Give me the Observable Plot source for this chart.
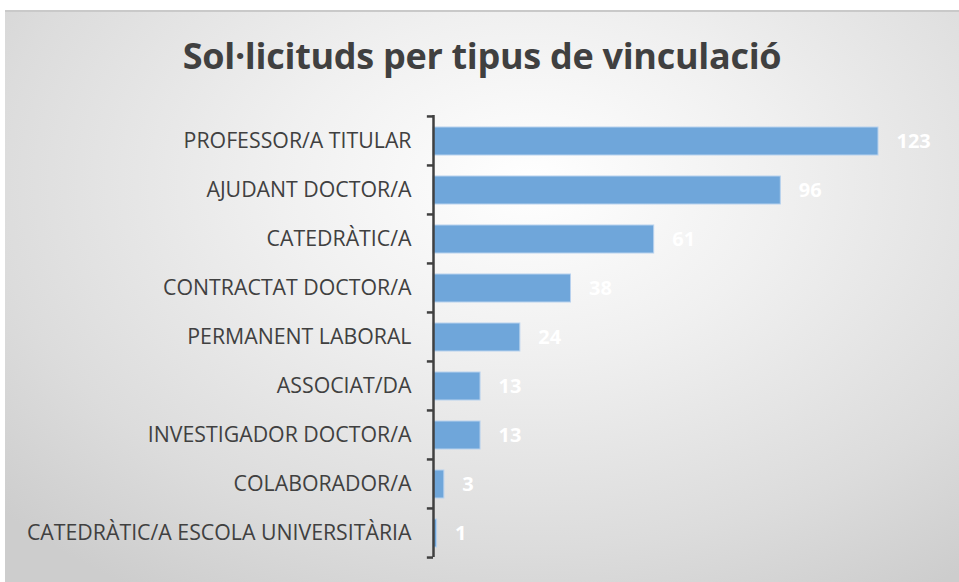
<!DOCTYPE html>
<html>
<head>
<meta charset="utf-8">
<script src="https://cdn.jsdelivr.net/npm/d3@7"></script>
<script src="https://cdn.jsdelivr.net/npm/@observablehq/plot@0.6"></script>
<style>
  html, body { margin: 0; padding: 0; background: #ffffff; width: 959px; height: 582px; overflow: hidden; }
  #frame {
    position: absolute; left: 5px; top: 10px; width: 954px; height: 572px;
    border-top: 2px solid #c9c9c9;
    background: radial-gradient(ellipse 75% 85% at 55% 30%, #ffffff 0%, #f0f0f0 35%, #dcdcdc 75%, #cdcdcd 100%);
    font-family: "Open Sans", "Noto Sans", sans-serif;
  }
  #title {
    position: absolute; left: 0; top: 26px; width: 954px; text-align: center;
    font-size: 36px; line-height: 1; font-weight: bold; color: #404040; margin: 0; letter-spacing: -0.3px;
  }
  #chart { position: absolute; left: 0; top: -2px; }
</style>
</head>
<body>
<div id="frame">
  <h1 id="title">Sol·licituds per tipus de vinculació</h1>
  <div id="chart"></div>
</div>
<script>
const categories = [
  "PROFESSOR/A TITULAR",
  "AJUDANT DOCTOR/A",
  "CATEDRÀTIC/A",
  "CONTRACTAT DOCTOR/A",
  "PERMANENT LABORAL",
  "ASSOCIAT/DA",
  "INVESTIGADOR DOCTOR/A",
  "COLABORADOR/A",
  "CATEDRÀTIC/A ESCOLA UNIVERSITÀRIA"
];
const values = [123, 96, 61, 38, 24, 13, 13, 3, 1];

const data = categories.map((c, i) => ({category: c, value: values[i]}));

const W = 954, H = 572, mt = 105, mb = 25, ml = 428, mr = 81;
const step = (H - mt - mb) / categories.length;

const plot = Plot.plot({
  width: W, height: H,
  marginTop: mt, marginBottom: mb, marginLeft: ml, marginRight: mr,
  style: {background: "transparent", fontFamily: "'Open Sans', 'Noto Sans', sans-serif"},
  x: {domain: [0, 123], axis: null},
  y: {domain: categories, padding: 0, label: null},
  marks: [
    Plot.barX(data, {
      y: "category", x: "value", x1: 0,
      fill: "#6fa6da", stroke: "#b8d2ee", strokeWidth: 1,
      insetTop: 11, insetBottom: 10
    }),
    Plot.ruleX([0], {stroke: "#404040", strokeWidth: 2.5}),
    Plot.ruleY(categories, {y: d => d, x1: -1.7, x2: 0, dy: -step / 2, stroke: "#404040", strokeWidth: 2.5}),
    Plot.ruleY([categories[categories.length - 1]], {y: d => d, x1: -1.7, x2: 0, dy: step / 2, stroke: "#404040", strokeWidth: 2.5}),
    Plot.axisY({tickSize: 0, tickPadding: 22, fontSize: 21.3, fill: "#404040", label: null}),
    Plot.text(data, {
      y: "category", x: "value", text: d => String(d.value),
      dx: 18, dy: 1, textAnchor: "start", fill: "#ffffff",
      fontWeight: "bold", fontSize: 20
    })
  ]
});
plot.querySelectorAll('g[aria-label="y-axis tick label"] text').forEach(t => t.setAttribute("fill", "#404040"));
document.getElementById("chart").appendChild(plot);
</script>
</body>
</html>
